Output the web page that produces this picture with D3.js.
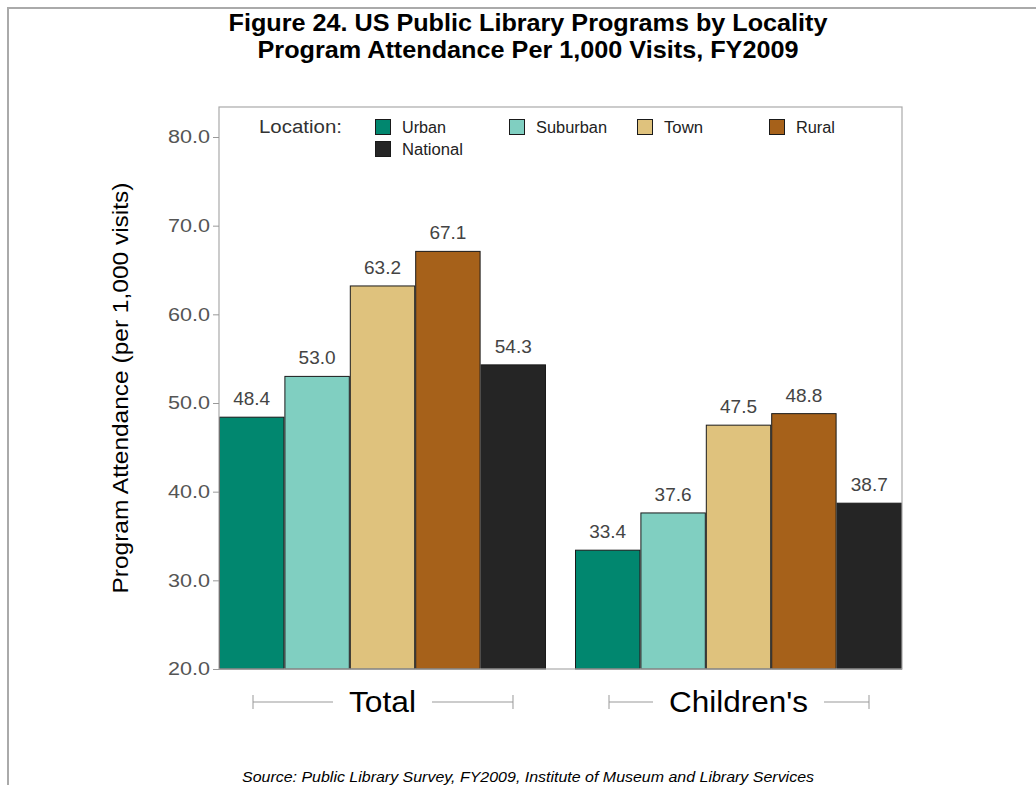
<!DOCTYPE html>
<html><head><meta charset="utf-8">
<script src="https://cdn.jsdelivr.net/npm/d3@7"></script>
<style>body{margin:0;background:#fff}svg{display:block}text{font-family:"Liberation Sans",Arial,sans-serif}</style>
</head><body>
<script>
const groups = ["Total", "Children's"];
const locations = ["Urban", "Suburban", "Town", "Rural", "National"];
const colors = ["#01876f", "#80cfc1", "#dfc27d", "#a6611a", "#252525"];
const totalValues = [48.4, 53.0, 63.2, 67.1, 54.3];
const childrenValues = [33.4, 37.6, 47.5, 48.8, 38.7];
const yTicks = [20, 30, 40, 50, 60, 70, 80];
const seriesValues = [totalValues, childrenValues];

const W = 1036, H = 785;
const svg = d3.select("body").append("svg").attr("width", W).attr("height", H);

// fit a text element horizontally to a target width
function fit(sel, len) {
  sel.attr("textLength", len).attr("lengthAdjust", "spacingAndGlyphs");
  return sel;
}

// outer border
svg.append("path").attr("d", `M8,${H} V8 H${W}`).attr("fill", "none").attr("stroke", "#aaa").attr("stroke-width", 2);

// titles
fit(svg.append("text").attr("x", 528).attr("y", 31).attr("text-anchor", "middle")
  .attr("font-weight", "bold").attr("font-size", 24).attr("fill", "#000")
  .text("Figure 24. US Public Library Programs by Locality"), 599);
fit(svg.append("text").attr("x", 528).attr("y", 58).attr("text-anchor", "middle")
  .attr("font-weight", "bold").attr("font-size", 24).attr("fill", "#000")
  .text("Program Attendance Per 1,000 Visits, FY2009"), 541);

const L = 219, R = 902, T = 107, B = 669;
const y = d3.scaleLinear().domain([20, 80]).range([B, 137]);
const x0 = d3.scaleBand().domain(groups).range([L, R]).paddingInner(0.0815).paddingOuter(0);
const x1 = d3.scaleBand().domain(locations).range([0, x0.bandwidth()]).padding(0);

// bars
groups.forEach((g, gi) => {
  const gEl = svg.append("g").attr("transform", `translate(${x0(g)},0)`);
  const data = locations.map((loc, i) => ({loc, v: seriesValues[gi][i], c: colors[i]}));
  gEl.selectAll("rect").data(data).join("rect")
    .attr("x", d => x1(d.loc) + 0.5).attr("y", d => y(d.v))
    .attr("width", x1.bandwidth() - 1).attr("height", d => y(20) - y(d.v))
    .attr("fill", d => d.c).attr("stroke", "#1a1a1a").attr("stroke-width", 1);
  gEl.selectAll("text.val").data(data).join("text").attr("class", "val")
    .attr("x", d => x1(d.loc) + x1.bandwidth() / 2).attr("y", d => y(d.v) - 12)
    .attr("text-anchor", "middle").attr("font-size", 19).attr("fill", "#444")
    .text(d => d.v.toFixed(1));
});

// frame
svg.append("rect").attr("x", L).attr("y", T).attr("width", R - L).attr("height", B - T)
  .attr("fill", "none").attr("stroke", "#aaa").attr("stroke-width", 1.2);

// y axis
const yAxis = svg.append("g").attr("transform", `translate(${L},0)`)
  .call(d3.axisLeft(y).tickValues(yTicks).tickFormat(d => d.toFixed(1)).tickSize(6).tickPadding(3));
yAxis.select(".domain").remove();
yAxis.selectAll(".tick line").attr("stroke", "#999");
yAxis.selectAll(".tick text").attr("font-size", 18).attr("fill", "#555")
  .attr("font-family", '"Liberation Sans",Arial,sans-serif')
  .attr("textLength", 42).attr("lengthAdjust", "spacingAndGlyphs");

fit(svg.append("text").attr("transform", `translate(128,388) rotate(-90)`).attr("text-anchor", "middle")
  .attr("font-size", 22).attr("fill", "#000").text("Program Attendance (per 1,000 visits)"), 411);

// group labels with brackets
const groupLabelLen = [67, 139];
groups.forEach((g, gi) => {
  const cx = x0(g) + x0.bandwidth() / 2;
  const lx = x0(g) + 34, rx = x0(g) + x0.bandwidth() - 33;
  const t = fit(svg.append("text").attr("x", cx).attr("y", 712).attr("text-anchor", "middle")
    .attr("font-size", 30).attr("fill", "#000").text(g), groupLabelLen[gi]);
  const bb = t.node().getBBox();
  const lineY = 702;
  const add = (a, b, c, d) => svg.append("line").attr("x1", a).attr("y1", b).attr("x2", c).attr("y2", d).attr("stroke", "#999").attr("stroke-width", 1);
  add(lx, lineY, bb.x - 16, lineY);
  add(bb.x + bb.width + 16, lineY, rx, lineY);
  add(lx, lineY - 7, lx, lineY + 7);
  add(rx, lineY - 7, rx, lineY + 7);
});

// legend
fit(svg.append("text").attr("x", 259).attr("y", 133).attr("font-size", 18).attr("fill", "#333").text("Location:"), 83);
const legPos = [[375, 119], [509, 119], [637, 119], [769, 119], [375, 141]];
const legLen = [44, 71, 39, 39, 61];
locations.forEach((loc, i) => {
  const [lx, ly] = legPos[i];
  svg.append("rect").attr("x", lx + 0.5).attr("y", ly + 0.5).attr("width", 15).attr("height", 15)
    .attr("fill", colors[i]).attr("stroke", "#1a1a1a").attr("stroke-width", 1);
  fit(svg.append("text").attr("x", lx + 27).attr("y", ly + 14).attr("font-size", 16).attr("fill", "#222").text(loc), legLen[i]);
});

// source
fit(svg.append("text").attr("x", 528).attr("y", 782).attr("text-anchor", "middle").attr("font-style", "italic")
  .attr("font-size", 15).attr("fill", "#000")
  .text("Source: Public Library Survey, FY2009, Institute of Museum and Library Services"), 572);
</script>
</body></html>
